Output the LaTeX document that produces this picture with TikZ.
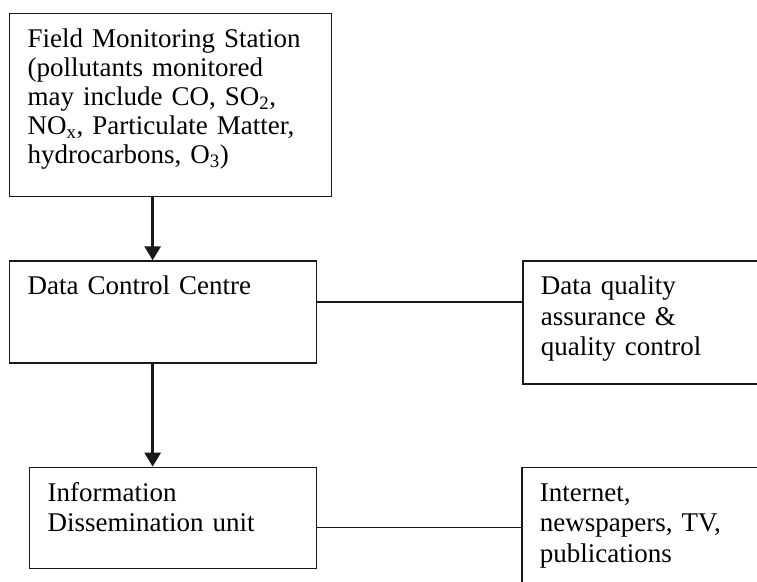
\documentclass[tikz,border=0pt]{standalone}
\usepackage{fontspec}
\setmainfont{Liberation Serif}
\usetikzlibrary{positioning,arrows.meta}
\tikzset{
	unitbox/.style={draw=black!90, line width=1.3pt, anchor=north west, align=left,
		inner xsep=18pt, inner ysep=0pt, text height=34pt, font=\fontsize{27}{30.5}\selectfont},
	flow/.style={draw=black!90, line width=3pt, -{Triangle[width=16pt,length=14pt]}},
	link/.style={draw=black!90, line width=1.3pt},
}

\begin{document}
\begin{tikzpicture}[x=1pt,y=1pt]
	\useasboundingbox (0,0) rectangle (757,-581);
	\fill[white] (0,0) rectangle (757,-581);
	\clip (0,0) rectangle (757,-581);
	\node[unitbox, text width=286pt, text depth=149pt, font=\fontsize{27}{29}\selectfont] (fms) at (9,-13)
		{Field Monitoring Station\\(pollutants monitored\\may include CO, SO\textsubscript{2},\\NO\textsubscript{x}, Particulate Matter,\\hydrocarbons, O\textsubscript{3})};
	\node[unitbox, text width=271pt, text depth=68pt, below=63pt of fms.south west, anchor=north west] (dcc)
		{Data Control Centre};
	\node[unitbox, text width=260pt, text depth=89pt, right=205pt of dcc.north east, anchor=north west] (dq)
		{Data quality\\assurance \&\\quality control};
	\node[unitbox, text width=251pt, text depth=67pt, below=103pt of dcc.south west, anchor=north west, xshift=20pt] (info)
		{Information\\Dissemination unit};
	\node[unitbox, text width=260pt, text depth=150pt, right=204pt of info.north east, anchor=north west] (media)
		{Internet,\\newspapers, TV,\\publications};
	\coordinate (spine) at ([xshift=-18pt]fms.south);
	\draw[flow] (spine) -- (spine |- dcc.north);
	\draw[flow] (dcc.south -| spine) -- (spine |- info.north);
	\draw[link] ([yshift=10pt]dcc.east) -- ([yshift=10pt]dcc.east -| dq.west);
	\draw[link] ([yshift=-10pt]info.east) -- ([yshift=-10pt]info.east -| media.west);
\end{tikzpicture}
\end{document}
